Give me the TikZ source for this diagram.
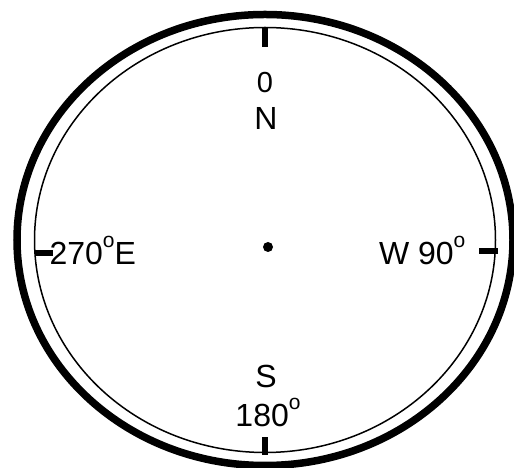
\documentclass[tikz,border=0pt]{standalone}
\usepackage{fontspec}
\setmainfont{Liberation Sans}
\usetikzlibrary{positioning}
\definecolor{cink}{HTML}{000000}
\newcommand{\degsup}{\raisebox{0.55em}{\fontsize{21}{21}\selectfont o}}
\tikzset{
  every picture/.style={line width=1.2pt},
  rim/.style={draw=cink, line width=7.5pt},
  ring/.style={draw=cink, line width=1.5pt},
  tick/.style={draw=cink, line width=6pt},
  mark label/.style={font=\fontsize{32}{34}\selectfont, inner sep=0pt, text=cink},
}
\begin{document}
\begin{tikzpicture}[x=1pt, y=1pt]
  \useasboundingbox (0,0) rectangle (514,468);
  % ---- dial rings
  \coordinate (centre) at (265,228);
  \draw[rim] (centre) ellipse [x radius=248, y radius=225.5];
  \draw[ring] (centre) ellipse [x radius=230.5, y radius=212.5];
  % ---- tick marks
  \draw[tick] (265,441) -- (265,421);
  \draw[tick] (265,13) -- (265,31);
  \draw[tick] (35,215) -- (53,215);
  \draw[tick] (498,217) -- (479,217);
  \fill[cink] (268,221) circle (5);
  % ---- labels
  \node[mark label, font=\fontsize{29}{31}\selectfont] (lblzero) at (265,385) {0};
  \node[mark label] (lblnorth) at (266,350) {N};
  \node[mark label] (lblsouth) at (266,92) {S};
  \node[mark label, anchor=base] (lblsouthdeg) at (268,41) {180\degsup};
  \node[mark label, anchor=base west] (lbleast) at (49,203) {270\degsup E};
  \node[mark label, anchor=base east] (lblwest) at (466,203) {W 90\degsup};
\end{tikzpicture}
\end{document}
